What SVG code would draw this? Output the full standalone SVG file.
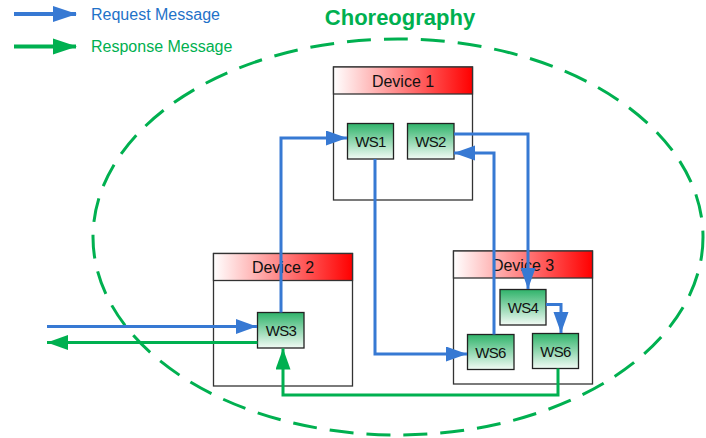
<svg xmlns="http://www.w3.org/2000/svg" width="706" height="438" viewBox="0 0 706 438">
<style>
.dev{fill:#fff;stroke:#333;stroke-width:1.3}
.hdr{fill:url(#hg);stroke:#333;stroke-width:1.3}
.ws{fill:url(#wg);stroke:#222;stroke-width:1.3}
.dt{font-family:"Liberation Sans",Arial,sans-serif;font-size:16px;fill:#111;text-anchor:middle}
.wt{font-family:"Liberation Sans",Arial,sans-serif;font-size:15px;fill:#111;text-anchor:middle;letter-spacing:-0.7px}
.req{fill:none;stroke:#3779d3;stroke-width:3;marker-end:url(#ab)}
.res{fill:none;stroke:#00b050;stroke-width:3;marker-end:url(#ag)}
.lg{font-family:"Liberation Sans",Arial,sans-serif;font-size:16px}
</style>
<defs>
<linearGradient id="hg" x1="0" y1="0" x2="1" y2="0">
<stop offset="0" stop-color="#ffffff"/><stop offset="1" stop-color="#ff0000"/>
</linearGradient>
<linearGradient id="wg" x1="0" y1="0" x2="0" y2="1">
<stop offset="0" stop-color="#2fb36a"/><stop offset="1" stop-color="#f2fbf5"/>
</linearGradient>
<marker id="ab" markerUnits="userSpaceOnUse" markerWidth="22" markerHeight="16" refX="21" refY="7.5" orient="auto">
<path d="M0,0 L21,7.5 L0,15 z" fill="#3779d3"/>
</marker>
<marker id="ag" markerUnits="userSpaceOnUse" markerWidth="22" markerHeight="16" refX="21" refY="7.5" orient="auto">
<path d="M0,0 L21,7.5 L0,15 z" fill="#00b050"/>
</marker>
</defs>
<rect width="706" height="438" fill="#fff"/>
<ellipse cx="398" cy="237" rx="305" ry="198" fill="none" stroke="#00b050" stroke-width="3" stroke-dasharray="24 13"/>
<text x="400" y="25" font-family="Liberation Sans,Arial,sans-serif" font-size="22" font-weight="bold" fill="#00b050" text-anchor="middle">Choreography</text>
<g id="legend">
<path d="M14,14 H76" stroke="#3779d3" stroke-width="4" fill="none"/>
<path d="M53,6 L77,14 L53,22 z" fill="#3779d3"/>
<text class="lg" x="91" y="19.5" fill="#1f72c8">Request Message</text>
<path d="M14,46.5 H76" stroke="#00b050" stroke-width="4" fill="none"/>
<path d="M53,38.5 L77,46.5 L53,54.5 z" fill="#00b050"/>
<text class="lg" x="91" y="52" fill="#00b050">Response Message</text>
</g>
<g id="device1">
<rect class="dev" x="333.5" y="67" width="139" height="133"/>
<rect class="hdr" x="333.5" y="67" width="139" height="27"/>
<text class="dt" x="403" y="86.5">Device 1</text>
</g>
<g id="device2">
<rect class="dev" x="213.5" y="253.5" width="139" height="132.5"/>
<rect class="hdr" x="213.5" y="253.5" width="139" height="27"/>
<text class="dt" x="283" y="273">Device 2</text>
</g>
<g id="device3">
<rect class="dev" x="453.5" y="251" width="139" height="133"/>
<rect class="hdr" x="453.5" y="251" width="139" height="27"/>
<text class="dt" x="523" y="270.5">Device 3</text>
</g>
<g id="ws1"><rect class="ws" x="347.5" y="123.5" width="46" height="35.5"/><text class="wt" x="370.5" y="146.5">WS1</text></g>
<g id="ws2"><rect class="ws" x="407.5" y="123.5" width="46.5" height="35.5"/><text class="wt" x="430.5" y="146.5">WS2</text></g>
<g id="ws3"><rect class="ws" x="257.5" y="312.5" width="46.5" height="35.5"/><text class="wt" x="281" y="335.5">WS3</text></g>
<g id="ws4"><rect class="ws" x="500" y="289.5" width="46" height="35.5"/><text class="wt" x="523" y="312.5">WS4</text></g>
<g id="ws6a"><rect class="ws" x="467.5" y="334.5" width="46.5" height="35"/><text class="wt" x="490.5" y="357.5">WS6</text></g>
<g id="ws6b"><rect class="ws" x="532.5" y="333.5" width="46" height="35"/><text class="wt" x="555.5" y="356.5">WS6</text></g>
<g id="connectors">
<path class="req" d="M47,326.5 H257"/>
<path class="res" d="M257.5,342.5 H47"/>
<path class="req" d="M281,312.5 V138 H347"/>
<path class="req" d="M375,159 V354 H467"/>
<path class="req" d="M454,134 H528 V289"/>
<path class="req" d="M494,334.5 V153 H454"/>
<path class="req" d="M546,304.5 H561 V333"/>
<path class="res" d="M558,368.5 V395 H283 V348.5"/>
</g>
</svg>
